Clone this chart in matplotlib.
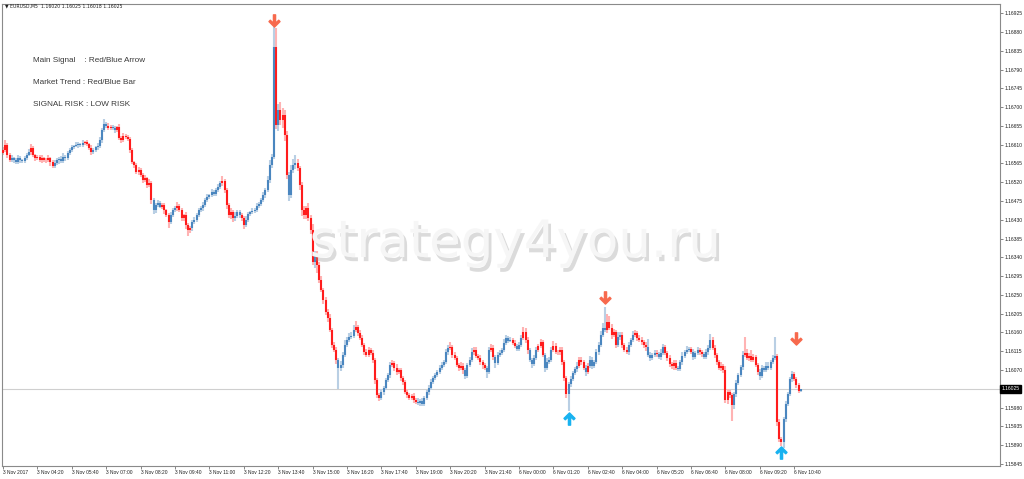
import numpy as np
import matplotlib
matplotlib.use("Agg")
import matplotlib.pyplot as plt
import matplotlib.patheffects as pe
from matplotlib.path import Path
from matplotlib.transforms import blended_transform_factory

# EURUSD M5, 3 Nov 2017 03:00 .. 6 Nov 2017 10:55 (372 bars), close prices
closes = [
    1.16597, 1.16609, 1.16585, 1.16573, 1.16578, 1.16573, 1.16568, 1.16578, 1.16573, 1.16571,
    1.16578, 1.16585, 1.16592, 1.16602, 1.16585, 1.16578, 1.16580, 1.16573, 1.16578, 1.16573,
    1.16573, 1.16578, 1.16568, 1.16559, 1.16566, 1.16573, 1.16576, 1.16571, 1.16580, 1.16578,
    1.16590, 1.16597, 1.16604, 1.16607, 1.16609, 1.16611, 1.16609, 1.16614, 1.16616, 1.16611,
    1.16602, 1.16592, 1.16597, 1.16604, 1.16607, 1.16621, 1.16645, 1.16659, 1.16655, 1.16650,
    1.16652, 1.16650, 1.16645, 1.16652, 1.16626, 1.16621, 1.16631, 1.16628, 1.16624, 1.16597,
    1.16568, 1.16561, 1.16544, 1.16549, 1.16537, 1.16525, 1.16530, 1.16513, 1.16518, 1.16477,
    1.16453, 1.16465, 1.16470, 1.16461, 1.16465, 1.16453, 1.16441, 1.16425, 1.16441, 1.16453,
    1.16458, 1.16463, 1.16453, 1.16434, 1.16441, 1.16418, 1.16406, 1.16410, 1.16425, 1.16430,
    1.16441, 1.16453, 1.16458, 1.16465, 1.16477, 1.16485, 1.16489, 1.16497, 1.16492, 1.16501,
    1.16508, 1.16518, 1.16523, 1.16501, 1.16465, 1.16441, 1.16449, 1.16434, 1.16439, 1.16449,
    1.16441, 1.16434, 1.16418, 1.16430, 1.16444, 1.16449, 1.16451, 1.16453, 1.16463, 1.16468,
    1.16477, 1.16489, 1.16501, 1.16525, 1.16561, 1.16580, 1.16844, 1.16657, 1.16693, 1.16669,
    1.16681, 1.16633, 1.16537, 1.16489, 1.16549, 1.16561, 1.16566, 1.16554, 1.16513, 1.16453,
    1.16441, 1.16458, 1.16434, 1.16406, 1.16329, 1.16346, 1.16322, 1.16286, 1.16262, 1.16238,
    1.16209, 1.16195, 1.16166, 1.16130, 1.16118, 1.16094, 1.16075, 1.16082, 1.16106, 1.16130,
    1.16142, 1.16149, 1.16152, 1.16166, 1.16173, 1.16159, 1.16147, 1.16130, 1.16113, 1.16106,
    1.16118, 1.16111, 1.16094, 1.16046, 1.16010, 1.16003, 1.16017, 1.16027, 1.16046, 1.16058,
    1.16082, 1.16087, 1.16075, 1.16065, 1.16070, 1.16051, 1.16041, 1.16017, 1.16010, 1.16003,
    1.16008, 1.15998, 1.15994, 1.15991, 1.15996, 1.15989, 1.16003, 1.16017, 1.16027, 1.16041,
    1.16051, 1.16058, 1.16065, 1.16075, 1.16082, 1.16089, 1.16113, 1.16123, 1.16125, 1.16106,
    1.16099, 1.16082, 1.16075, 1.16080, 1.16070, 1.16056, 1.16082, 1.16094, 1.16113, 1.16118,
    1.16104, 1.16099, 1.16089, 1.16082, 1.16075, 1.16065, 1.16118, 1.16123, 1.16101, 1.16087,
    1.16106, 1.16111, 1.16118, 1.16135, 1.16147, 1.16140, 1.16142, 1.16135, 1.16128, 1.16120,
    1.16130, 1.16147, 1.16161, 1.16142, 1.16118, 1.16094, 1.16084, 1.16099, 1.16118, 1.16128,
    1.16137, 1.16106, 1.16075, 1.16089, 1.16094, 1.16118, 1.16128, 1.16113, 1.16113, 1.16118,
    1.16089, 1.16051, 1.16012, 1.16036, 1.16048, 1.16063, 1.16072, 1.16080, 1.16094, 1.16089,
    1.16075, 1.16065, 1.16080, 1.16094, 1.16080, 1.16089, 1.16113, 1.16130, 1.16154, 1.16171,
    1.16166, 1.16185, 1.16171, 1.16154, 1.16161, 1.16130, 1.16149, 1.16154, 1.16130, 1.16118,
    1.16113, 1.16130, 1.16142, 1.16154, 1.16159, 1.16147, 1.16142, 1.16137, 1.16130, 1.16125,
    1.16106, 1.16099, 1.16106, 1.16111, 1.16108, 1.16101, 1.16111, 1.16125, 1.16111, 1.16099,
    1.16084, 1.16080, 1.16087, 1.16075, 1.16072, 1.16089, 1.16104, 1.16113, 1.16118, 1.16120,
    1.16113, 1.16101, 1.16111, 1.16118, 1.16113, 1.16108, 1.16101, 1.16113, 1.16123, 1.16142,
    1.16123, 1.16106, 1.16089, 1.16075, 1.16080, 1.16070, 1.15998, 1.16017, 1.16010, 1.15986,
    1.16012, 1.16039, 1.16058, 1.16077, 1.16107, 1.16111, 1.16099, 1.16104, 1.16094, 1.16101,
    1.16082, 1.16065, 1.16056, 1.16075, 1.16070, 1.16080, 1.16075, 1.16089, 1.16099, 1.16104,
    1.15945, 1.15904, 1.15897, 1.15952, 1.15988, 1.16012, 1.16048, 1.16060, 1.16048, 1.16033,
    1.16020, 1.16025,
]
first_open = 1.16590

# wick lengths above / below the body, in points (0.00001)
wick_up = [
    8, 12, 5, 4, 6, 3, 5, 7, 4, 3,   5, 6, 8, 10, 4, 3, 5, 4, 6, 3,
    4, 6, 3, 5, 8, 5, 4, 6, 10, 4,   5, 4, 6, 3, 8, 5, 4, 7, 3, 5,
    4, 6, 5, 3, 6, 8, 5, 12, 6, 8,   5, 6, 4, 3, 7, 5, 8, 4, 6, 4,
    5, 3, 6, 8, 4, 5, 7, 3, 10, 4,   6, 5, 8, 4, 6, 5, 3, 6, 8, 4,
    5, 10, 4, 6, 3, 8, 5, 6, 4, 7,   5, 6, 4, 8, 5, 6, 3, 7, 5, 4,
    8, 6, 12, 5, 4, 6, 8, 5, 10, 4,  5, 6, 4, 8, 5, 3, 6, 4, 7, 5,
    6, 8, 5, 10, 12, 8, 47, 45, 15, 20,  18, 12, 10, 8, 12, 15, 20, 10, 6, 8,
    10, 6, 12, 8, 15, 10, 8, 6, 10, 5,   8, 6, 10, 5, 8, 6, 4, 10, 8, 12,
    6, 10, 8, 12, 15, 5, 8, 6, 4, 8,   6, 5, 8, 4, 6, 5, 8, 4, 6, 5,
    8, 6, 5, 10, 6, 4, 5, 6, 8, 4,   5, 6, 4, 8, 5, 6, 4, 5, 6, 8,
    5, 6, 4, 8, 6, 5, 8, 6, 12, 5,   6, 4, 5, 8, 6, 5, 4, 6, 10, 8,
    6, 5, 8, 6, 4, 5, 8, 10, 6, 5,   6, 8, 5, 10, 6, 5, 8, 4, 6, 5,
    8, 6, 12, 10, 6, 5, 4, 8, 6, 5,  8, 6, 5, 10, 6, 8, 12, 6, 5, 8,
    6, 5, 4, 6, 8, 5, 6, 10, 8, 6,   5, 8, 6, 10, 6, 5, 8, 6, 10, 12,
    50, 20, 15, 10, 8, 6, 12, 8, 6, 5,   6, 8, 5, 10, 6, 5, 8, 6, 4, 6,
    20, 6, 5, 8, 6, 5, 10, 8, 6, 5,  6, 5, 8, 6, 4, 5, 8, 6, 10, 5,
    6, 8, 5, 6, 4, 5, 6, 8, 6, 15,   8, 6, 5, 6, 8, 5, 10, 8, 6, 5,
    6, 8, 5, 6, 8, 38, 10, 6, 15, 8,  6, 5, 8, 6, 5, 8, 10, 6, 8, 45,
    5, 8, 6, 5, 8, 6, 5, 8, 6, 5,   5, 0,
]
wick_dn = [
    6, 4, 8, 5, 4, 6, 5, 4, 8, 5,   4, 5, 3, 6, 4, 8, 5, 4, 6, 5,
    6, 4, 8, 6, 5, 4, 10, 5, 4, 6,  5, 6, 4, 5, 3, 6, 4, 5, 6, 4,
    5, 6, 4, 5, 6, 4, 8, 5, 6, 4,   5, 4, 6, 5, 4, 6, 5, 4, 6, 8,
    5, 8, 4, 6, 5, 8, 4, 6, 5, 10,  8, 6, 5, 4, 6, 10, 5, 15, 6, 5,
    4, 6, 5, 8, 6, 10, 15, 8, 6, 5,  6, 5, 4, 6, 5, 4, 6, 5, 4, 6,
    5, 4, 6, 8, 10, 6, 8, 10, 6, 5,  6, 8, 10, 6, 5, 4, 6, 5, 4, 6,
    5, 4, 6, 5, 8, 6, 4, 10, 15, 12,  20, 15, 10, 15, 8, 6, 10, 8, 12, 15,
    10, 8, 6, 10, 8, 15, 20, 8, 6, 10,  8, 10, 6, 8, 6, 10, 50, 8, 6, 5,
    6, 5, 4, 6, 5, 8, 6, 5, 8, 6,   5, 6, 8, 10, 6, 8, 5, 6, 4, 5,
    6, 5, 8, 6, 5, 8, 6, 5, 8, 6,   5, 8, 6, 5, 8, 6, 5, 4, 6, 5,
    4, 6, 5, 4, 6, 5, 4, 6, 5, 8,   6, 5, 8, 6, 10, 8, 6, 5, 4, 6,
    5, 6, 8, 10, 6, 15, 5, 4, 6, 12,  5, 6, 4, 5, 6, 5, 4, 6, 5, 4,
    5, 6, 4, 8, 10, 6, 8, 5, 4, 6,   5, 6, 10, 6, 5, 4, 6, 5, 8, 6,
    6, 8, 10, 40, 6, 5, 4, 6, 5, 8,  6, 10, 5, 6, 8, 5, 4, 6, 5, 4,
    6, 8, 5, 10, 6, 8, 5, 6, 8, 6,   5, 6, 4, 5, 6, 8, 5, 6, 8, 10,
    6, 8, 5, 6, 8, 5, 6, 4, 5, 8,   6, 8, 10, 6, 5, 4, 6, 5, 4, 6,
    5, 6, 4, 5, 6, 8, 5, 4, 6, 5,   6, 8, 6, 5, 8, 6, 8, 10, 6, 39,
    10, 6, 5, 4, 6, 5, 6, 8, 5, 6,   5, 8, 10, 6, 5, 4, 6, 5, 4, 6,
    8, 6, 10, 15, 6, 5, 4, 6, 5, 6,  4, 2,
]

# trend colour of each bar: r = red (down), b = blue (up)
trend = "".join([
    "rrrrbbbbbb", "bbbrrrrrrr", "rrrrbbbbbb", "bbbbbbbbrr", "rrbbbbbbbr",
    "rbbrrrrrrr", "rrrrrrrrrr", "bbbbrrrrbb", "brrrrrrrbb", "bbbbbbbbbb",
    "bbrrrrrrbb", "brrbbbbbbb", "bbbbbbbrbr", "rrrbbbbrrr", "rrrrrbrrrr",
    "rrrrrrbbbb", "bbbbrrrrrr", "rrrrrrbbbb", "brrrrrrrrr", "rrrbbbbbbb",
    "bbbbbbbbrr", "rrrrrbbbbr", "rrrrrbbrrb", "bbbbbbbrrb", "bbrrrbbbbr",
    "rrbbbbrrrr", "rrrbbbbbrr", "rbrbbbbbbb", "brrrrrbbrr", "rbbbrrrrrr",
    "bbbbrbbbrr", "rrrrbbbbbb", "rbbbrrbbbb", "rrrrrrrrrr", "bbbbbrrrrr",
    "rrbbbbbbbb", "rrrbbbbbrr", "rb",
])

# signal arrows: bar index and price
sell_bars = [126, 280, 369]
sell_prices = [1.16903, 1.16239, 1.16143]
buy_bars = [263, 362]
buy_prices = [1.15957, 1.15876]

last_price = 1.16025
header = "\u25bc EURUSD,M5  1.16020 1.16025 1.16018 1.16025"
info_lines = ["Main Signal    : Red/Blue Arrow", "Market Trend : Red/Blue Bar", "SIGNAL RISK : LOW RISK"]

tick_bars = list(range(0, 372, 16))
tick_labels = ["3 Nov 2017", "3 Nov 04:20", "3 Nov 05:40", "3 Nov 07:00", "3 Nov 08:20",
               "3 Nov 09:40", "3 Nov 11:00", "3 Nov 12:20", "3 Nov 13:40", "3 Nov 15:00",
               "3 Nov 16:20", "3 Nov 17:40", "3 Nov 19:00", "3 Nov 20:20", "3 Nov 21:40",
               "6 Nov 00:00", "6 Nov 01:20", "6 Nov 02:40", "6 Nov 04:00", "6 Nov 05:20",
               "6 Nov 06:40", "6 Nov 08:00", "6 Nov 09:20", "6 Nov 10:40"]
price_ticks = np.arange(1.15845, 1.169251, 0.00045)

RED, BLUE = "#ff1c1c", "#4a86bf"
RED_L, BLUE_L = "#ffb3b3", "#b9cfe4"

plt.rcParams["font.family"] = ["Liberation Sans", "DejaVu Sans"]

fig = plt.figure(figsize=(10.24, 4.79), dpi=100)
ax = fig.add_axes([2 / 1024, 13 / 479, 998 / 1024, 462 / 479])

close = np.array(closes)
opens = np.concatenate([[first_open], close[:-1]])
top = np.maximum(opens, close)
bot = np.minimum(opens, close)
highs = top + np.array(wick_up) * 1e-5
lows = bot - np.array(wick_dn) * 1e-5
x = np.arange(len(close))
is_red = np.array([c == "r" for c in trend])

for mask, c_body, c_wick in [(is_red, RED, RED_L), (~is_red, BLUE, BLUE_L)]:
    ax.vlines(x[mask], lows[mask], highs[mask], color=c_wick, lw=1.5, zorder=2)
    ax.vlines(x[mask], bot[mask], np.maximum(top[mask], bot[mask] + 2e-6),
              color=c_body, lw=1.5, zorder=3)

# arrow markers (MT4 style)
down = Path([(-0.14, 1.0), (0.14, 1.0), (0.14, -0.1), (0.55, 0.3), (0.72, 0.12),
             (0.0, -0.6), (-0.72, 0.12), (-0.55, 0.3), (-0.14, -0.1), (-0.14, 1.0)],
            [Path.MOVETO] + [Path.LINETO] * 8 + [Path.CLOSEPOLY])
up = Path([(vx, -vy) for vx, vy in down.vertices], down.codes)
ax.plot(sell_bars, sell_prices, ls="none", marker=down, ms=11, color="#f7694d", zorder=5)
ax.plot(buy_bars, buy_prices, ls="none", marker=up, ms=11, color="#18b2f0", zorder=5)

ax.axhline(last_price, color="#cfcfcf", lw=0.8, zorder=1)

fig.text(515 / 1024, 1 - 243 / 479, "strategy4you.ru", ha="center", va="center", fontsize=37,
         family="DejaVu Sans", color="#f6f6f6", zorder=1,
         path_effects=[pe.SimplePatchShadow(offset=(2, -3), shadow_rgbFace="#9a9a9a", alpha=0.35),
                       pe.Normal()])

for i, line in enumerate(info_lines):
    fig.text(33 / 1024, 1 - (61 + 21.5 * i) / 479, line, fontsize=5.9, color="#3a3a3a",
             va="center")
fig.text(5 / 1024, 1 - 6 / 479, header, fontsize=3.3, color="#202020", va="center",
         family=["DejaVu Sans"])

ax.set_xlim(-0.5, 463.7)
ax.set_ylim(1.15840, 1.16947)
ax.set_xticks(tick_bars)
ax.set_xticklabels(tick_labels, ha="left", fontsize=3.5, color="#202020")
ax.set_yticks(price_ticks)
ax.set_yticklabels(["" if abs(p - last_price) < 1e-7 else f"{p:.5f}" for p in price_ticks],
                   fontsize=3.6, color="#202020")
ax.yaxis.tick_right()
ax.tick_params(axis="both", direction="out", length=2, width=0.6, color="#707070", pad=1.2)
for s in ax.spines.values():
    s.set_color("#8a8a8a")
    s.set_linewidth(0.8)

ax.text(1.002, last_price, "1.16025", transform=blended_transform_factory(ax.transAxes, ax.transData),
        fontsize=3.6, color="white", va="center", ha="left", zorder=6, clip_on=False,
        bbox=dict(boxstyle="square,pad=0.3", fc="black", ec="black"))

fig.savefig("out.png", dpi=100)
